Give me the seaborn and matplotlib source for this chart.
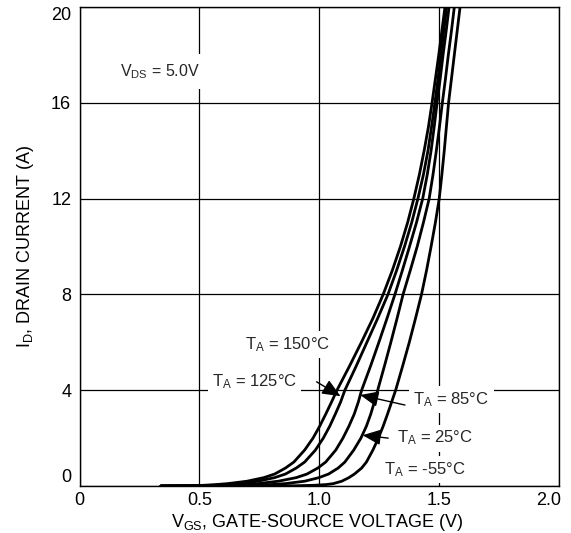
import matplotlib
matplotlib.use("Agg")
import matplotlib.pyplot as plt
import matplotlib.transforms as mtransforms
import seaborn as sns
import pandas as pd

# ---- data ----
id_levels = [0, 0.01, 0.03, 0.06, 0.1, 0.2, 0.35, 0.5, 0.75, 1, 1.5, 2, 2.5, 3, 3.5, 4,
             5, 6, 7, 8, 9, 10, 11, 12, 13, 14, 15, 16, 17, 18, 19, 20]
vgs_150 = [0.34, 0.45, 0.52, 0.57, 0.62, 0.70, 0.77, 0.815, 0.86, 0.895, 0.94, 0.975, 1.003, 1.028, 1.052, 1.075,
           1.127, 1.177, 1.225, 1.268, 1.306, 1.340, 1.370, 1.396, 1.419, 1.439, 1.457, 1.472, 1.486, 1.500, 1.513, 1.526]
vgs_125 = [0.34, 0.49, 0.56, 0.61, 0.66, 0.745, 0.815, 0.86, 0.905, 0.94, 0.985, 1.018, 1.045, 1.068, 1.09, 1.108,
           1.155, 1.200, 1.245, 1.288, 1.324, 1.357, 1.387, 1.413, 1.436, 1.455, 1.470, 1.484, 1.497, 1.509, 1.521, 1.533]
vgs_85 = [0.34, 0.54, 0.63, 0.69, 0.745, 0.83, 0.905, 0.95, 0.995, 1.028, 1.07, 1.10, 1.125, 1.147, 1.164, 1.178,
          1.215, 1.250, 1.284, 1.317, 1.348, 1.378, 1.407, 1.433, 1.452, 1.468, 1.481, 1.493, 1.506, 1.518, 1.531, 1.543]
vgs_25 = [0.34, 0.60, 0.72, 0.80, 0.86, 0.94, 1.00, 1.04, 1.08, 1.108, 1.145, 1.175, 1.198, 1.216, 1.231, 1.245,
          1.273, 1.300, 1.326, 1.351, 1.381, 1.410, 1.436, 1.460, 1.476, 1.490, 1.503, 1.515, 1.528, 1.540, 1.553, 1.565]
vgs_m55 = [0.34, 0.90, 0.98, 1.03, 1.06, 1.095, 1.125, 1.148, 1.178, 1.198, 1.225, 1.248, 1.268, 1.286, 1.303, 1.320,
           1.349, 1.377, 1.403, 1.428, 1.449, 1.468, 1.486, 1.502, 1.513, 1.523, 1.532, 1.541, 1.553, 1.565, 1.577, 1.589]
temps = ["150", "125", "85", "25", "-55"]
series = [vgs_150, vgs_125, vgs_85, vgs_25, vgs_m55]

x_ticks = [0, 0.5, 1.0, 1.5, 2.0]
x_tick_labels = ["0", "0.5", "1.0", "1.5", "2.0"]
y_ticks = [0, 4, 8, 12, 16, 20]
y_tick_labels = ["0", "4", "8", "12", "16", "20"]

rows = []
for t, xs in zip(temps, series):
    for xv, yv in zip(xs, id_levels):
        rows.append({"Temp": t, "VGS": xv, "ID": yv})
df = pd.DataFrame(rows)

# ---- style ----
sns.set_theme(style="white")
plt.rcParams["font.family"] = ["Liberation Sans", "DejaVu Sans"]
plt.rcParams["mathtext.fontset"] = "custom"
plt.rcParams["mathtext.rm"] = "Liberation Sans"
plt.rcParams["mathtext.it"] = "Liberation Sans:italic"
plt.rcParams["mathtext.bf"] = "Liberation Sans:bold"

W, H = 571, 533
fig = plt.figure(figsize=(W / 100, H / 100), dpi=100)
left, right, top, bottom = 79.5, 558.5, 7, 486
ax = fig.add_axes([left / W, 1 - bottom / H, (right - left) / W, (bottom - top) / H])

sns.lineplot(data=df, x="VGS", y="ID", hue="Temp", units="Temp", estimator=None, sort=False,
             palette=["black"] * 5, linewidth=2.0, legend=False, ax=ax, zorder=4)

ax.set_xlim(0, 2.0)
ax.set_ylim(0, 20)
ax.set_xticks(x_ticks)
ax.set_xticklabels(x_tick_labels)
ax.set_yticks(y_ticks)
ax.set_yticklabels(y_tick_labels)
ax.tick_params(axis="both", length=0, labelsize=13, colors="black")
ax.tick_params(axis="y", pad=6)
ax.tick_params(axis="x", pad=4)

# keep the end labels inside the figure, as in the reference
ylabels = ax.get_yticklabels()
ylabels[-1].set_verticalalignment("top")
ylabels[0].set_verticalalignment("bottom")
xlabels = ax.get_xticklabels()
xlabels[-1].set_transform(xlabels[-1].get_transform() +
                          mtransforms.ScaledTranslation(-10 / 100, 0, fig.dpi_scale_trans))

ax.grid(True, color="black", linewidth=0.9)
ax.set_axisbelow(True)
for s in ax.spines.values():
    s.set_color("black")
    s.set_linewidth(1.0)
    s.set_visible(True)

ax.set_xlabel(r"V$_{\mathrm{GS}}$, GATE-SOURCE VOLTAGE (V)", fontsize=13, color="black")
ax.set_ylabel(r"I$_{\mathrm{D}}$, DRAIN CURRENT (A)", fontsize=13, color="black")
ax.xaxis.set_label_coords(0.497, -0.054)
ax.yaxis.set_label_coords(-0.09, 0.5)

box = dict(facecolor="white", edgecolor="none", pad=3)
ax.text(0.17, 17.3, r"V$_{\mathrm{DS}}$ = 5.0V", fontsize=11.5, va="center", ha="left",
        bbox=dict(facecolor="white", edgecolor="none", pad=6), zorder=3)
ax.text(0.69, 5.9, r"T$_{\mathrm{A}}$ = 150°C", fontsize=12, va="center", ha="left", bbox=box, zorder=3)
ax.text(0.553, 4.34, r"T$_{\mathrm{A}}$ = 125°C", fontsize=12, va="center", ha="left", bbox=box, zorder=3)
ax.text(1.394, 3.6, r"T$_{\mathrm{A}}$ = 85°C", fontsize=12, va="center", ha="left", bbox=box, zorder=3)
ax.text(1.325, 2.0, r"T$_{\mathrm{A}}$ = 25°C", fontsize=12, va="center", ha="left", bbox=box, zorder=3)
ax.text(1.27, 0.7, r"T$_{\mathrm{A}}$ = -55°C", fontsize=12, va="center", ha="left", bbox=box, zorder=3)

arrow = dict(arrowstyle="-|>,head_length=0.7,head_width=0.3", color="black", lw=1.0,
             mutation_scale=16, shrinkA=0, shrinkB=0)
ax.annotate("", xy=(1.09, 3.75), xytext=(0.99, 4.35), arrowprops=arrow, zorder=5)
ax.annotate("", xy=(1.172, 3.8), xytext=(1.359, 3.38), arrowprops=arrow, zorder=5)
ax.annotate("", xy=(1.182, 2.12), xytext=(1.289, 2.0), arrowprops=arrow, zorder=5)

fig.savefig("out.png", dpi=100)
